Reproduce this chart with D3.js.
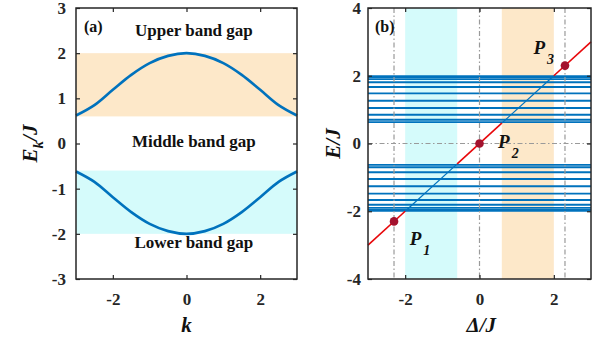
<!DOCTYPE html>
<html>
<head>
<meta charset="utf-8">
<script src="https://cdn.jsdelivr.net/npm/d3@7"></script>
<style>
  body { margin: 0; background: #fff; }
  svg { display: block; font-family: "Liberation Serif", "DejaVu Serif", serif; }
  .domain { display: none; }
</style>
</head>
<body>
<svg id="chart" width="604" height="341"></svg>
<script>
// ---- panel (a): band structure ----
const kValues = [-3, -2.5, -2, -1.5, -1, -0.5, 0, 0.5, 1, 1.5, 2, 2.5, 3];
const upperBand = [0.62, 0.85, 1.19, 1.52, 1.78, 1.94, 2.0, 1.94, 1.78, 1.52, 1.19, 0.85, 0.62];
const lowerBand = [-0.62, -0.85, -1.19, -1.52, -1.78, -1.94, -2.0, -1.94, -1.78, -1.52, -1.19, -0.85, -0.62];
const upperRange = [0.6, 2];
const lowerRange = [-2, -0.6];
const aXTicks = [-2, 0, 2];
const aYTicks = [-3, -2, -1, 0, 1, 2, 3];
const gapLabels = [
  { text: "Upper band gap", e: 2.38 },
  { text: "Middle band gap", e: -0.08 },
  { text: "Lower band gap", e: -2.32 }
];

// ---- panel (b): finite-chain spectrum vs Delta ----
const levels = [1.99, 1.96, 1.90, 1.81, 1.67, 1.48, 1.26, 1.05, 0.85, 0.70, 0.63,
                -0.63, -0.70, -0.85, -1.05, -1.26, -1.48, -1.67, -1.81, -1.90, -1.96, -1.99];
const redSegments = [[-3, -2], [-0.6, 0.6], [2, 3]];
const blueSegments = [[-2, -0.6], [0.6, 2]];
const cyanDelta = [-2, -0.6];
const orangeDelta = [0.6, 2];
const gridDelta = [-2.3, 0, 2.3];
const points = [
  { name: "1", delta: -2.3, e: -2.3 },
  { name: "2", delta: 0, e: 0 },
  { name: "3", delta: 2.3, e: 2.3 }
];
const bXTicks = [-2, 0, 2];
const bYTicks = [-4, -2, 0, 2, 4];

const BLUE = "#0072bd", ORANGE = "#fde8c9", CYAN = "#d5fbfb", RED = "#e8070a", DOT = "#a3122e", AX = "#262626";
const SERIF = "'Liberation Serif', 'DejaVu Serif', serif";
const svg = d3.select("#chart");
const yTop = 8, yBottom = 279;

function styleAxis(sel) {
  sel.attr("font-family", SERIF).attr("font-size", 17);
  sel.selectAll(".tick text").attr("font-family", SERIF).attr("font-weight", "bold").attr("fill", AX);
  sel.selectAll(".tick line").attr("stroke", AX).attr("stroke-width", 1.2);
}

function frame(g, x, y, xTicks, yTicks, yPad) {
  const [x0, x1] = x.range();
  const fmt = d => String(d);
  g.append("g").attr("transform", `translate(0,${yBottom})`)
    .call(d3.axisBottom(x).tickValues(xTicks).tickSizeInner(-4).tickSizeOuter(0).tickPadding(14).tickFormat(fmt))
    .call(styleAxis);
  g.append("g").attr("transform", `translate(0,${yTop})`)
    .call(d3.axisTop(x).tickValues(xTicks).tickSizeInner(-4).tickSizeOuter(0).tickFormat(""))
    .call(styleAxis);
  g.append("g").attr("transform", `translate(${x0},0)`)
    .call(d3.axisLeft(y).tickValues(yTicks).tickSizeInner(-4).tickSizeOuter(0).tickPadding(yPad).tickFormat(fmt))
    .call(styleAxis);
  g.append("g").attr("transform", `translate(${x1},0)`)
    .call(d3.axisRight(y).tickValues(yTicks).tickSizeInner(-4).tickSizeOuter(0).tickFormat(""))
    .call(styleAxis);
  g.append("rect").attr("x", x0).attr("y", yTop).attr("width", x1 - x0).attr("height", yBottom - yTop)
    .attr("fill", "none").attr("stroke", AX).attr("stroke-width", 1.5);
}

// ---------- panel (a) ----------
{
  const x = d3.scaleLinear().domain([-3, 3]).range([76, 297]);
  const y = d3.scaleLinear().domain([-3, 3]).range([yBottom, yTop]);
  const g = svg.append("g");

  g.append("rect").attr("x", x(-3)).attr("width", x(3) - x(-3))
    .attr("y", y(upperRange[1])).attr("height", y(upperRange[0]) - y(upperRange[1])).attr("fill", ORANGE);
  g.append("rect").attr("x", x(-3)).attr("width", x(3) - x(-3))
    .attr("y", y(lowerRange[1])).attr("height", y(lowerRange[0]) - y(lowerRange[1])).attr("fill", CYAN);

  const line = d3.line().x(d => x(d[0])).y(d => y(d[1])).curve(d3.curveCatmullRom);
  [upperBand, lowerBand].forEach(b => {
    g.append("path").attr("d", line(kValues.map((k, i) => [k, b[i]])))
      .attr("fill", "none").attr("stroke", BLUE).attr("stroke-width", 2.6);
  });

  g.selectAll(".gap").data(gapLabels).join("text")
    .attr("x", x(0.2)).attr("y", d => y(d.e)).attr("text-anchor", "middle")
    .attr("font-size", 17).attr("font-weight", "bold").attr("fill", "#111")
    .text(d => d.text);

  g.append("text").attr("x", 84).attr("y", 32).attr("font-size", 16).attr("font-weight", "bold")
    .attr("fill", "#111").text("(a)");

  frame(g, x, y, aXTicks, aYTicks, 10);

  g.append("text").attr("x", x(0)).attr("y", 332).attr("text-anchor", "middle")
    .attr("font-size", 21).attr("font-weight", "bold").attr("font-style", "italic").attr("fill", "#111").text("k");

  const yl = g.append("text").attr("transform", `translate(37,${y(0)}) rotate(-90)`)
    .attr("text-anchor", "middle").attr("font-size", 21).attr("font-weight", "bold")
    .attr("font-style", "italic").attr("fill", "#111");
  yl.append("tspan").text("E");
  yl.append("tspan").attr("font-size", 15).attr("dy", 6).text("k");
  yl.append("tspan").attr("dy", -6).text("/J");
}

// ---------- panel (b) ----------
{
  const x = d3.scaleLinear().domain([-3, 3]).range([368, 591]);
  const y = d3.scaleLinear().domain([-4, 4]).range([yBottom, yTop]);
  const g = svg.append("g");

  [[cyanDelta, CYAN], [orangeDelta, ORANGE]].forEach(([r, c]) => {
    g.append("rect").attr("x", x(r[0])).attr("width", x(r[1]) - x(r[0]))
      .attr("y", yTop).attr("height", yBottom - yTop).attr("fill", c);
  });

  g.selectAll(".level").data(levels).join("line")
    .attr("x1", x(-3)).attr("x2", x(3)).attr("y1", d => y(d)).attr("y2", d => y(d))
    .attr("stroke", BLUE).attr("stroke-width", 1.9);

  const dash = "5,2.5,1.5,2.5";
  g.selectAll(".vgrid").data(gridDelta).join("line")
    .attr("x1", d => x(d)).attr("x2", d => x(d)).attr("y1", yTop).attr("y2", yBottom)
    .attr("stroke", "#9a9a9a").attr("stroke-width", 1.2).attr("stroke-dasharray", dash);
  g.append("line").attr("x1", x(-3)).attr("x2", x(3)).attr("y1", y(0)).attr("y2", y(0))
    .attr("stroke", "#9a9a9a").attr("stroke-width", 1.2).attr("stroke-dasharray", dash);

  g.selectAll(".bseg").data(blueSegments).join("line")
    .attr("x1", d => x(d[0])).attr("x2", d => x(d[1])).attr("y1", d => y(d[0])).attr("y2", d => y(d[1]))
    .attr("stroke", BLUE).attr("stroke-width", 1.2);
  g.selectAll(".rseg").data(redSegments).join("line")
    .attr("x1", d => x(d[0])).attr("x2", d => x(d[1])).attr("y1", d => y(d[0])).attr("y2", d => y(d[1]))
    .attr("stroke", RED).attr("stroke-width", 1.6);

  g.selectAll(".pt").data(points).join("circle")
    .attr("cx", d => x(d.delta)).attr("cy", d => y(d.e)).attr("r", 4.3).attr("fill", DOT);

  const labelPos = { "1": [-1.88, -3.0], "2": [0.5, -0.12], "3": [1.45, 2.65] };
  points.forEach(p => {
    const [lx, ly] = labelPos[p.name];
    const t = g.append("text").attr("x", x(lx)).attr("y", y(ly))
      .attr("font-size", 19).attr("font-weight", "bold").attr("font-style", "italic").attr("fill", "#111");
    t.append("tspan").text("P");
    t.append("tspan").attr("font-size", 14).attr("dx", 2).attr("dy", 10).text(p.name);
  });

  g.append("text").attr("x", 375).attr("y", 32).attr("font-size", 16).attr("font-weight", "bold")
    .attr("fill", "#111").text("(b)");

  frame(g, x, y, bXTicks, bYTicks, 7);

  g.append("text").attr("x", x(0.05)).attr("y", 332).attr("text-anchor", "middle")
    .attr("font-size", 21).attr("font-weight", "bold").attr("font-style", "italic").attr("fill", "#111").text("Δ/J");
  g.append("text").attr("transform", `translate(340,${y(0)}) rotate(-90)`)
    .attr("text-anchor", "middle").attr("font-size", 21).attr("font-weight", "bold")
    .attr("font-style", "italic").attr("fill", "#111").text("E/J");
}
</script>
</body>
</html>
